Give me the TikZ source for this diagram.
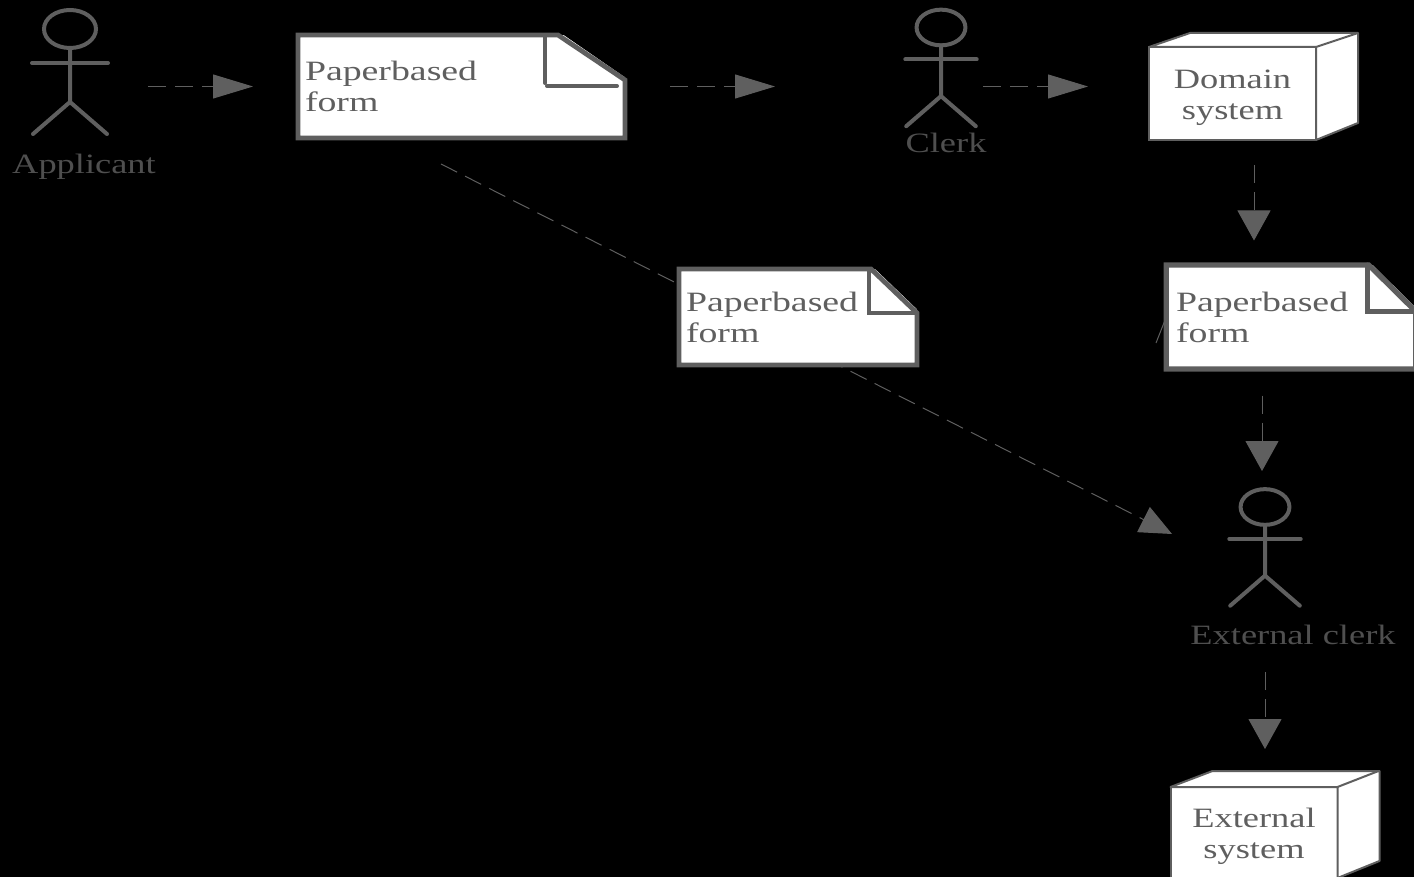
\documentclass[tikz,border=0pt]{standalone}
\usepackage{xcolor}
\usepackage{fontspec}
\setmainfont[FakeStretch=1.3]{Liberation Serif}
\newfontfamily\formfont[FakeStretch=1.35]{Liberation Serif}
\usepackage{tikz}
\usetikzlibrary{arrows.meta,calc,positioning}
\definecolor{umlgray}{HTML}{5F5F5F}
\definecolor{labelgray}{HTML}{4F4F4F}
\newcommand{\cubelift}{\rule{0pt}{13.5pt}}
\newcommand{\formedge}[4]{%
  \fill[black] ($(#2.north east)+(-#3,-4)$) -| ($(#2.north east)+(4,#4)$) -- cycle;
  \draw[draw=umlgray,line width=#1,line join=miter]
    (#2.north west) -- ($(#2.north east)+(-#3,0)$) -- ($(#2.north east)+(0,#4)$)
    -- (#2.south east) -- (#2.south west) -- cycle;}
\tikzset{
  stickman/.pic={
    \draw[actorline] (0,0) ellipse [x radius=26,y radius=19];
    \draw[actorline] (0,19) -- (0,73) -- (-37,105);
    \draw[actorline] (0,73) -- (37,105);
    \draw[actorline] (-38,34) -- (38,34);
  },
  actorline/.style={draw=umlgray,line width=2pt,line cap=round},
  actorbox/.style={inner sep=0pt,outer sep=0pt,minimum height=63pt},
  actorlabel/.style={text=labelgray,inner sep=0pt,font=\fontsize{14pt}{15.5pt}\selectfont},
  formbox/.style={fill=white,text=umlgray,align=left,inner sep=0pt,outer sep=0pt,
    font=\formfont\fontsize{14pt}{15.5pt}\selectfont},
  fold/.style={draw=umlgray,line width=2pt,line cap=round},
  cubefront/.style={draw=umlgray,fill=white,text=umlgray,line width=1pt,align=center,
    inner sep=0pt,outer sep=0pt,minimum width=83.5pt,font=\fontsize{14pt}{15.5pt}\selectfont},
  cubeface/.style={draw=umlgray,fill=white,line width=1pt,line join=round},
  flow/.style={draw=umlgray,line width=.5pt,dash pattern=on 9pt off 4.5pt},
  flowright/.style={flow,-{Triangle[length=20pt,width=12pt,fill=umlgray]}},
  flowdown/.style={flow,-{Triangle[length=15pt,width=16.5pt,fill=umlgray]}},
  flowslant/.style={flow,-{Triangle[length=16pt,width=14pt,fill=umlgray]}}
}
\begin{document}
\begin{tikzpicture}[x=.5pt,y=-.5pt]
  \fill[black] (0,0) rectangle (1414,877);
  \useasboundingbox (0,0) rectangle (1414,877);

  \coordinate (slantstart) at (441,164);
  \coordinate (stubstart)  at (1156,343);

  \node[actorbox,minimum width=78pt]  (applicant) at (70,86.5) {};
  \node[formbox,minimum width=163.5pt,minimum height=51.5pt,text width=156.5pt]
        (form1) [right=75pt of applicant] {Paperbased\\form};
  \node[actorbox,minimum width=42pt]  (clerk)     [right=137pt of form1] {};
  \node[cubefront,minimum height=46.5pt] (domain) [right=83pt of clerk,yshift=-3.5pt] {\cubelift Domain\\system};
  \node[actorbox,minimum width=93pt]  (extclerk)  at (1265,534) {};

  \draw[flowslant] (slantstart) -- (extclerk.west);

  \node[formbox,minimum width=119pt,minimum height=48pt,text width=112pt]
        (form2) at (798,317) {Paperbased\\form};
  \node[formbox,minimum width=124.75pt,minimum height=52pt,text width=115pt]
        (form3) at (1291,317) {Paperbased\\form};
  \node[cubefront,minimum height=45.5pt] (extsystem) at (1254,832.5) {\cubelift External\\system};

  \node[actorlabel] (applicantlabel) at (84,167)   {Applicant};
  \node[actorlabel] (clerklabel)     at (946,143)  {Clerk};
  \node[actorlabel] (extclerklabel)  at (1293,635) {External clerk};

  \pic[shift={(0,-57.5)}] at (applicant) {stickman};
  \pic[shift={(0,-59)},scale=.94] at (clerk) {stickman};
  \pic[shift={(0,-27)},scale=.94] at (extclerk) {stickman};

  \draw[cubeface] (domain.north west) -- ++(41,-14) -- ++(168,0) -- ++(0,90)
        -- (domain.south east) -- (domain.north east) -- cycle;
  \draw[cubeface] (domain.north east) -- ++(42,-14);
  \draw[cubeface] (extsystem.north west) -- ++(42,-16) -- ++(167,0) -- ++(0,90)
        -- (extsystem.south east) -- (extsystem.north east) -- cycle;
  \draw[cubeface] (extsystem.north east) -- ++(41,-16);

  \formedge{2.4pt}{form1}{67}{45}
  \formedge{2.4pt}{form2}{46}{44}
  \formedge{2.6pt}{form3}{47}{46.5}
  \draw[fold] ($(form1.north east)+(-80,0)$) -- ($(form1.north east)+(-80,48)$);
  \draw[fold] ($(form1.north east)+(-78,51)$) -- ($(form1.north east)+(-8,51)$);
  \draw[fold] ($(form2.north east)+(-48,0)$) |- ($(form2.north east)+(0,44)$);
  \draw[fold,line width=2.5pt] ($(form3.north east)+(-48,0)$) |- ($(form3.north east)+(0,46.5)$);

  \coordinate (form3out) at ([xshift=-14.5pt]form3.south);

  \draw[flowright,shorten >=22.5pt] (applicant.east) -- (form1.west);
  \draw[flowright,shorten <=22.5pt,shorten >=62pt] (form1.east) -- (clerk.west);
  \draw[flowright,shorten >=30.5pt] (clerk.east) -- (clerk.east -| domain.west);
  \draw[flowdown,shorten <=12.5pt,shorten >=12.25pt] ([xshift=10.75pt]domain.south) -- ([xshift=10.75pt]domain.south |- form3.north);
  \draw[flowdown,shorten <=13.25pt] (form3out) -- (form3out |- extclerk.north);
  \draw[flowdown,shorten <=37.5pt,shorten >=19pt] (extclerk.south) -- (extclerk.south |- extsystem.north);
  \draw[draw=umlgray,line width=.5pt] (stubstart) -- (form3.west);
\end{tikzpicture}
\end{document}
